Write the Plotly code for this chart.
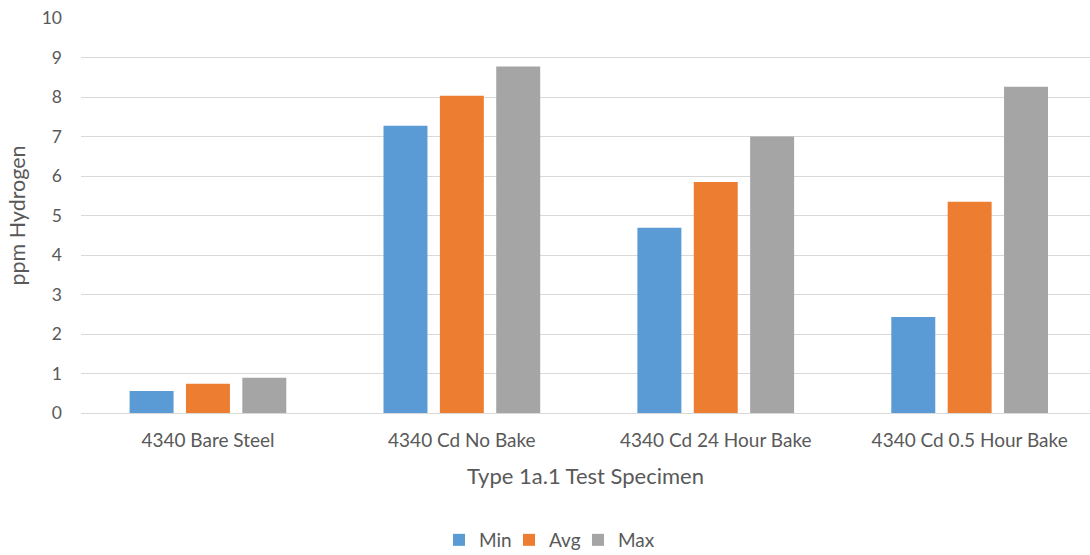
import plotly.graph_objects as go

# Hydrogen content per test specimen
categories = ["4340 Bare Steel", "4340 Cd No Bake", "4340 Cd 24 Hour Bake", "4340 Cd 0.5 Hour Bake"]
min_vals = [0.56, 7.27, 4.69, 2.43]
avg_vals = [0.74, 8.03, 5.85, 5.35]
max_vals = [0.89, 8.77, 7.00, 8.26]
y_ticks = list(range(0, 11))

FONT = "Lato"
TXT = "#595959"

W, H = 1090, 555
left, top, bottom = 81, 17.5, 141.5
cat_px = 253.9
plot_w = W - left

# one legend per series so each key sits where Excel-style legends put it
series = [("Min", min_vals, "#5B9BD5", "legend", 439),
          ("Avg", avg_vals, "#ED7D31", "legend2", 509),
          ("Max", max_vals, "#A5A5A5", "legend3", 578)]

fig = go.Figure()
legend_layouts = {}
for name, vals, color, leg, lx in series:
    fig.add_trace(go.Bar(x=categories, y=vals, name=name, legend=leg,
                         marker=dict(color=color, line=dict(width=0))))
    legend_layouts[leg] = dict(
        orientation="h", x=lx / W, xanchor="left", xref="container",
        y=(H - 540) / H, yanchor="middle", yref="container",
        font=dict(size=19, color=TXT), itemwidth=30, bgcolor="rgba(0,0,0,0)")

fig.update_layout(
    width=W, height=H,
    margin=dict(l=left, r=0, t=top, b=bottom, pad=0, autoexpand=False),
    paper_bgcolor="white", plot_bgcolor="white",
    barmode="group", bargap=0.334, bargroupgap=0.22,
    font=dict(family=FONT, size=18, color=TXT),
    xaxis=dict(
        range=[-0.5, -0.5 + plot_w / cat_px], automargin=False,
        showgrid=False, showline=False, zeroline=False,
        ticks="", tickfont=dict(size=19, color=TXT), ticklabelstandoff=14,
        title=dict(text="Type 1a.1 Test Specimen", font=dict(size=22, color=TXT), standoff=18),
    ),
    yaxis=dict(
        range=[0, 10], tickvals=y_ticks, showgrid=True, automargin=False,
        gridcolor="#d9d9d9", gridwidth=1, zeroline=True, zerolinecolor="#d9d9d9",
        zerolinewidth=1, showline=False, ticks="",
        tickfont=dict(size=17.5, color=TXT), ticklabelstandoff=18,
        title=dict(text="ppm Hydrogen", font=dict(size=21.5, color=TXT), standoff=10),
    ),
    showlegend=True,
    **legend_layouts,
)

fig.write_html("out.html")
